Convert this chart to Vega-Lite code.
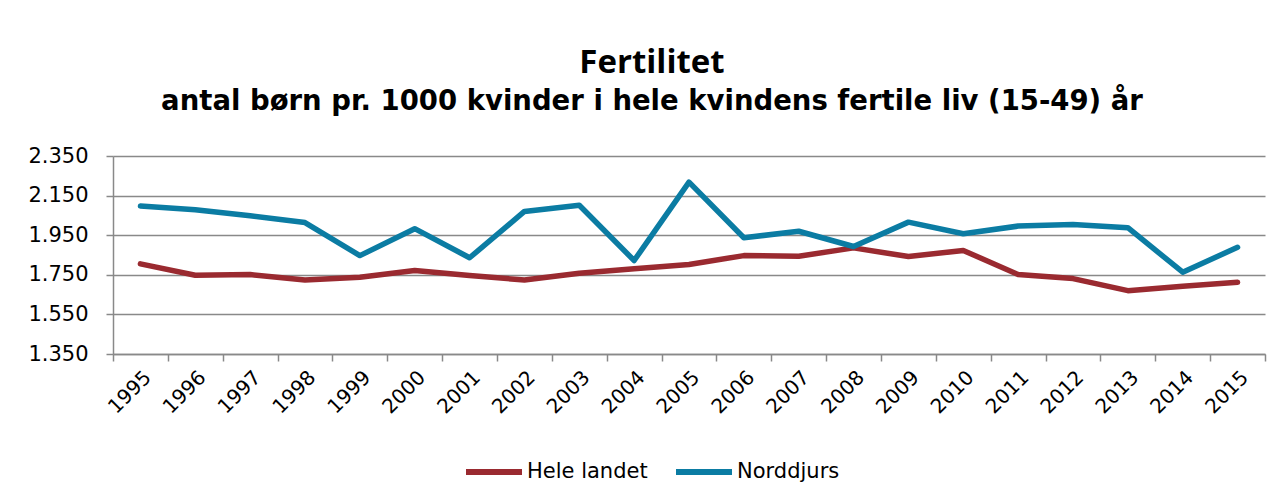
{
  "$schema": "https://vega.github.io/schema/vega-lite/v6.json",
  "width": 1152,
  "height": 198,
  "autosize": {"type": "none"},
  "padding": {"left": 113, "top": 156, "right": 17, "bottom": 146},
  "background": "white",
  "config": {
    "locale": {"number": {"decimal": ",", "thousands": ".", "grouping": [3], "currency": ["", " kr."]}},
    "view": {"stroke": null}
  },
  "title": {
    "text": "Fertilitet",
    "subtitle": "antal børn pr. 1000 kvinder i hele kvindens fertile liv (15-49) år",
    "font": "Open Sans",
    "fontSize": 33,
    "fontWeight": "bold",
    "color": "black",
    "subtitleFont": "DejaVu Sans",
    "subtitleFontSize": 27.5,
    "subtitleFontWeight": "bold",
    "subtitleColor": "black",
    "subtitlePadding": 8,
    "anchor": "middle",
    "frame": "group",
    "dx": -37,
    "offset": 30
  },
  "data": {
    "values": [
      {"year": "1995", "serie": "Hele landet", "value": 1805},
      {"year": "1996", "serie": "Hele landet", "value": 1748},
      {"year": "1997", "serie": "Hele landet", "value": 1751},
      {"year": "1998", "serie": "Hele landet", "value": 1724},
      {"year": "1999", "serie": "Hele landet", "value": 1738},
      {"year": "2000", "serie": "Hele landet", "value": 1772},
      {"year": "2001", "serie": "Hele landet", "value": 1746},
      {"year": "2002", "serie": "Hele landet", "value": 1724},
      {"year": "2003", "serie": "Hele landet", "value": 1758},
      {"year": "2004", "serie": "Hele landet", "value": 1780},
      {"year": "2005", "serie": "Hele landet", "value": 1802},
      {"year": "2006", "serie": "Hele landet", "value": 1847},
      {"year": "2007", "serie": "Hele landet", "value": 1844},
      {"year": "2008", "serie": "Hele landet", "value": 1886},
      {"year": "2009", "serie": "Hele landet", "value": 1842},
      {"year": "2010", "serie": "Hele landet", "value": 1873},
      {"year": "2011", "serie": "Hele landet", "value": 1751},
      {"year": "2012", "serie": "Hele landet", "value": 1731},
      {"year": "2013", "serie": "Hele landet", "value": 1670},
      {"year": "2014", "serie": "Hele landet", "value": 1692},
      {"year": "2015", "serie": "Hele landet", "value": 1712},
      {"year": "1995", "serie": "Norddjurs", "value": 2097},
      {"year": "1996", "serie": "Norddjurs", "value": 2079},
      {"year": "1997", "serie": "Norddjurs", "value": 2048},
      {"year": "1998", "serie": "Norddjurs", "value": 2014},
      {"year": "1999", "serie": "Norddjurs", "value": 1847},
      {"year": "2000", "serie": "Norddjurs", "value": 1983},
      {"year": "2001", "serie": "Norddjurs", "value": 1836},
      {"year": "2002", "serie": "Norddjurs", "value": 2070},
      {"year": "2003", "serie": "Norddjurs", "value": 2101},
      {"year": "2004", "serie": "Norddjurs", "value": 1822},
      {"year": "2005", "serie": "Norddjurs", "value": 2218},
      {"year": "2006", "serie": "Norddjurs", "value": 1937},
      {"year": "2007", "serie": "Norddjurs", "value": 1970},
      {"year": "2008", "serie": "Norddjurs", "value": 1893},
      {"year": "2009", "serie": "Norddjurs", "value": 2016},
      {"year": "2010", "serie": "Norddjurs", "value": 1957},
      {"year": "2011", "serie": "Norddjurs", "value": 1996},
      {"year": "2012", "serie": "Norddjurs", "value": 2004},
      {"year": "2013", "serie": "Norddjurs", "value": 1988},
      {"year": "2014", "serie": "Norddjurs", "value": 1763},
      {"year": "2015", "serie": "Norddjurs", "value": 1889}
    ]
  },
  "mark": {"type": "line", "strokeWidth": 5.5, "strokeCap": "round", "strokeJoin": "round"},
  "encoding": {
    "x": {
      "field": "year",
      "type": "ordinal",
      "bandPosition": 0.5,
      "scale": {"type": "band", "paddingInner": 0, "paddingOuter": 0},
      "axis": {
        "title": null,
        "labelAngle": -45,
        "labelFont": "DejaVu Sans",
        "labelFontSize": 20,
        "labelColor": "black",
        "labelPadding": 6,
        "tickBand": "extent",
        "tickSize": 7,
        "tickColor": "#898989",
        "tickWidth": 1.5,
        "domainColor": "#898989",
        "domainWidth": 1.5,
        "grid": false
      }
    },
    "y": {
      "field": "value",
      "type": "quantitative",
      "scale": {"domain": [1350, 2350], "nice": false, "zero": false},
      "axis": {
        "title": null,
        "values": [1350, 1550, 1750, 1950, 2150, 2350],
        "format": ",d",
        "labelFont": "DejaVu Sans",
        "labelFontSize": 21,
        "labelColor": "black",
        "labelPadding": 18,
        "tickSize": 7,
        "tickColor": "#898989",
        "tickWidth": 1.5,
        "domainColor": "#898989",
        "domainWidth": 1.5,
        "grid": true,
        "gridColor": "#898989",
        "gridWidth": 1.5
      }
    },
    "color": {
      "field": "serie",
      "type": "nominal",
      "scale": {"domain": ["Hele landet", "Norddjurs"], "range": ["#9A2A30", "#0B7CA3"]},
      "legend": {
        "title": null,
        "orient": "none",
        "direction": "horizontal",
        "legendX": 350,
        "legendY": 285,
        "symbolType": "stroke",
        "symbolSize": 3136,
        "symbolStrokeWidth": 6,
        "labelFont": "DejaVu Sans",
        "labelFontSize": 21,
        "labelColor": "black",
        "labelOffset": 2,
        "columnPadding": 16,
        "padding": 0
      }
    }
  }
}
